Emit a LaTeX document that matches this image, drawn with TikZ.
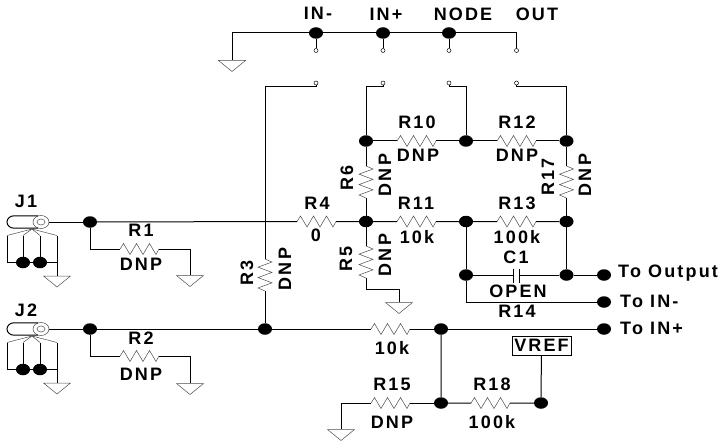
\documentclass[tikz,border=0pt]{standalone}
\usepackage{fontspec}
\usepackage{tikz}
\usetikzlibrary{shapes.geometric}
\newfontfamily\schfont[LetterSpace=12]{Liberation Sans}
\tikzset{
    every node/.append style={font=\schfont\bfseries\fontsize{18}{18}\selectfont},
    wire/.style={line width=1pt},
    thinline/.style={line width=0.5pt, black!70},
    junct/.style={ellipse, fill=black, inner sep=0pt, minimum width=14pt, minimum height=11.5pt},
    term/.style={circle, draw, line width=0.5pt, fill=white, inner sep=0pt, minimum size=4pt},
    lbl/.style={inner sep=0pt},
    lblv/.style={inner sep=0pt, rotate=90},
    lblr/.style={inner sep=0pt, anchor=west}}
\newcommand{\resH}[3]{
    \coordinate (#1-a) at (#2,#3);
    \coordinate (#1-b) at (#2+39,#3);
    \draw[thinline] (#1-a) -- ++(3.5,-5.5) -- ++(6.5,11) -- ++(6.5,-11) -- ++(6.5,11) -- ++(6.5,-11) -- ++(6.5,11) -- (#1-b);}
\newcommand{\resV}[3]{
    \coordinate (#1-a) at (#2,#3);
    \coordinate (#1-b) at (#2,#3+32);
    \draw[thinline] (#1-a) -- ++(7,3) -- ++(-14,5.2) -- ++(14,5.2) -- ++(-14,5.2) -- ++(14,5.2) -- ++(-14,5.2) -- (#1-b);}
\newcommand{\gnd}[3]{
    \coordinate (#1) at (#2,#3);
    \draw[thinline] (#2-13.5,#3+0.5) -- (#2+13.5,#3+0.5) -- (#2,#3+11.5) -- cycle;}
\newcommand{\jack}[2]{
    \draw[thinline] (41,#2) ellipse (8 and 6.5);
    \draw[thinline] (41,#2) ellipse (4 and 3);
    \draw[wire] (38,#2-6.2) -- (14,#2-6.2) arc (-90:-270:7 and 6.2) -- (38,#2+6.2);
    \coordinate (#1-top) at (32,#2+7);
    \coordinate (#1-l0) at (7,#2+13.5);
    \coordinate (#1-l1) at (23,#2+13.5);
    \coordinate (#1-l2) at (40,#2+13.5);
    \coordinate (#1-l3) at (57,#2+13.5);
    \coordinate (#1-c0) at (7,#2+40.5);
    \coordinate (#1-c3) at (57,#2+40.5);
    \node[junct] (#1-d1) at (23,#2+40.5) {};
    \node[junct] (#1-d2) at (40,#2+40.5) {};
    \draw[thinline] (#1-l0) -- (#1-top) -- (#1-l1) (#1-l2) -- (#1-top) -- (#1-l3);
    \draw[wire] (#1-l0) -- (#1-c0) -- (#1-d1) -- (#1-d2) -- (#1-c3) -- (#1-l3)
        (#1-l1) -- (#1-d1) (#1-l2) -- (#1-d2);
    \gnd{#1-g}{57}{#2+53.5}
    \draw[wire] (#1-c3) -- (#1-g);}
\begin{document}
\begin{tikzpicture}[x=1pt,y=-1pt]
    \useasboundingbox (0,0) rectangle (723,441);

    % test points
    \node[junct] (jm) at (316,33) {};
    \node[junct] (jp) at (383,33) {};
    \node[junct] (jn) at (449,33) {};
    \coordinate (co) at (516.5,33);
    \coordinate (cg) at (232,33);
    \gnd{gtop}{232}{60}
    \foreach \nm/\xx in {a/316,b/383,c/449,d/516.5}{
        \node[term] (tu\nm) at (\xx,50.5) {};
        \node[term] (tl\nm) at (\xx,83) {};
    }
    \draw[wire] (gtop) -- (cg) -- (jm) -- (jp) -- (jn) -- (co) -- (tud);
    \draw[wire] (jm) -- (tua) (jp) -- (tub) (jn) -- (tuc);

    % connectors
    \jack{cj1}{222}
    \jack{cj2}{329}
    \node[junct] (j1) at (90,222) {};
    \node[junct] (j2) at (90,329) {};
    \resH{r1}{120}{249}
    \resH{r2}{120}{356}
    \gnd{g1}{190}{275}
    \gnd{g2}{190}{383}
    \draw[wire] (49,222) -- (j1) |- (r1-a);
    \draw[wire] (r1-b) -| (g1);
    \draw[wire] (49,329) -- (j2) |- (r2-a);
    \draw[wire] (r2-b) -| (g2);

    % amplifier network
    \node[junct] (a1) at (366,141) {};
    \node[junct] (a2) at (466,141) {};
    \node[junct] (a3) at (566.5,141) {};
    \node[junct] (b1) at (366,221.5) {};
    \node[junct] (b2) at (466,221.5) {};
    \node[junct] (b3) at (566.5,221.5) {};
    \node[junct] (c2) at (466,275) {};
    \node[junct] (c3) at (566.5,275) {};
    \node[junct] (tout) at (604,275) {};
    \node[junct] (tinm) at (604,302) {};
    \node[junct] (tinp) at (604,329) {};
    \node[junct] (d1) at (265,329) {};
    \node[junct] (d2) at (441,329) {};
    \node[junct] (e1) at (441,403) {};
    \node[junct] (e2) at (541,403) {};
    \node[draw, line width=0.7pt, minimum width=59pt, minimum height=19pt, inner sep=0pt] (vref) at (541.5,345.5) {VREF};

    \resH{r10}{397}{141}
    \resH{r12}{497}{141}
    \resH{r4}{297}{221.5}
    \resH{r11}{397}{221.5}
    \resH{r13}{497}{221.5}
    \resH{r14}{371}{329}
    \resH{r15}{371}{403}
    \resH{r18}{471}{403}
    \resV{r3}{265}{259}
    \resV{r6}{366}{166}
    \resV{r17}{566.5}{166}
    \resV{r5}{366}{246}
    \gnd{g5}{399}{302}
    \gnd{g15}{341}{429}

    \draw[wire] (j1) -- (r4-a) (r4-b) -- (b1) -- (r11-a) (r11-b) -- (b2) -- (r13-a) (r13-b) -- (b3);
    \draw[wire] (j2) -- (d1) -- (r14-a) (r14-b) -- (d2) -- (tinp);
    \draw[wire] (a1) -- (r10-a) (r10-b) -- (a2) -- (r12-a) (r12-b) -- (a3);
    \draw[wire] (a1) -- (r6-a) (r6-b) -- (b1) -- (r5-a);
    \draw[wire] (a3) -- (r17-a) (r17-b) -- (b3) -- (c3) -- (tout);
    \draw[wire] (b2) -- (c2) |- (tinm);
    \draw[wire] (r3-b) -- (d1);
    \draw[wire] (r5-b) -- ++(0,11) -| (g5);
    \draw[wire] (tla) -- ++(0,4) -| (r3-a);
    \draw[wire] (tlb) -- ++(0,4) -| (a1);
    \draw[wire] (tlc) -- ++(0,4) -| (a2);
    \draw[wire] (tld) -- ++(0,4) -| (a3);
    \draw[wire] (d2) -- (e1) -- (r18-a) (r18-b) -- (e2) -- (vref);
    \draw[wire] (e1) -- (r15-b) (r15-a) -| (g15);

    % capacitor
    \coordinate (cpa) at (513,275);
    \coordinate (cpb) at (519,275);
    \draw[wire] (c2) -- (cpa) (cpb) -- (c3);
    \draw[wire] (513,268.5) -- (513,283) (519,268.5) -- (519,283);

    % labels
    \node[lbl] (limn) at (318,13.5) {IN-};
    \node[lbl] (lipl) at (386,14) {IN+};
    \node[lbl] (lnod) at (463,14) {NODE};
    \node[lbl] (lout) at (537,14) {OUT};
    \node[lbl] (lj1) at (26,201) {J1};
    \node[lbl] (lj2) at (26,310) {J2};
    \node[lbl] (lr1) at (141,230) {R1};
    \node[lbl] (vr1) at (141,264) {DNP};
    \node[lbl] (lr2) at (141,338) {R2};
    \node[lbl] (vr2) at (141,374) {DNP};
    \node[lbl] (lr10) at (417,122) {R10};
    \node[lbl] (vr10) at (418,155) {DNP};
    \node[lbl] (lr12) at (517,122) {R12};
    \node[lbl] (vr12) at (517,155) {DNP};
    \node[lbl] (lr4) at (317,203) {R4};
    \node[lbl] (vr4) at (316,235) {0};
    \node[lbl] (lr11) at (416,203) {R11};
    \node[lbl] (vr11) at (417,237) {10k};
    \node[lbl] (lr13) at (517,203) {R13};
    \node[lbl] (vr13) at (517,237) {100k};
    \node[lbl] (lc1) at (516,257) {C1};
    \node[lbl] (vc1) at (518,291) {OPEN};
    \node[lbl] (lr14) at (517,311) {R14};
    \node[lbl] (vr14) at (392,348) {10k};
    \node[lbl] (lr15) at (392,384) {R15};
    \node[lbl] (vr15) at (392,422) {DNP};
    \node[lbl] (lr18) at (492,384) {R18};
    \node[lbl] (vr18) at (492,422) {100k};
    \node[lblv] (lr3) at (247,273) {R3};
    \node[lblv] (vr3) at (285,269) {DNP};
    \node[lblv] (lr5) at (346,259) {R5};
    \node[lblv] (vr5) at (385,255) {DNP};
    \node[lblv] (lr6) at (347,178) {R6};
    \node[lblv] (vr6) at (385,175) {DNP};
    \node[lblv] (lr17) at (548,177) {R17};
    \node[lblv] (vr17) at (585,175) {DNP};
    \node[lblr] (ltout) at (618,273.5) {To Output};
    \node[lblr] (ltinm) at (620,301) {To IN-};
    \node[lblr] (ltinp) at (620,328) {To IN+};
\end{tikzpicture}
\end{document}
